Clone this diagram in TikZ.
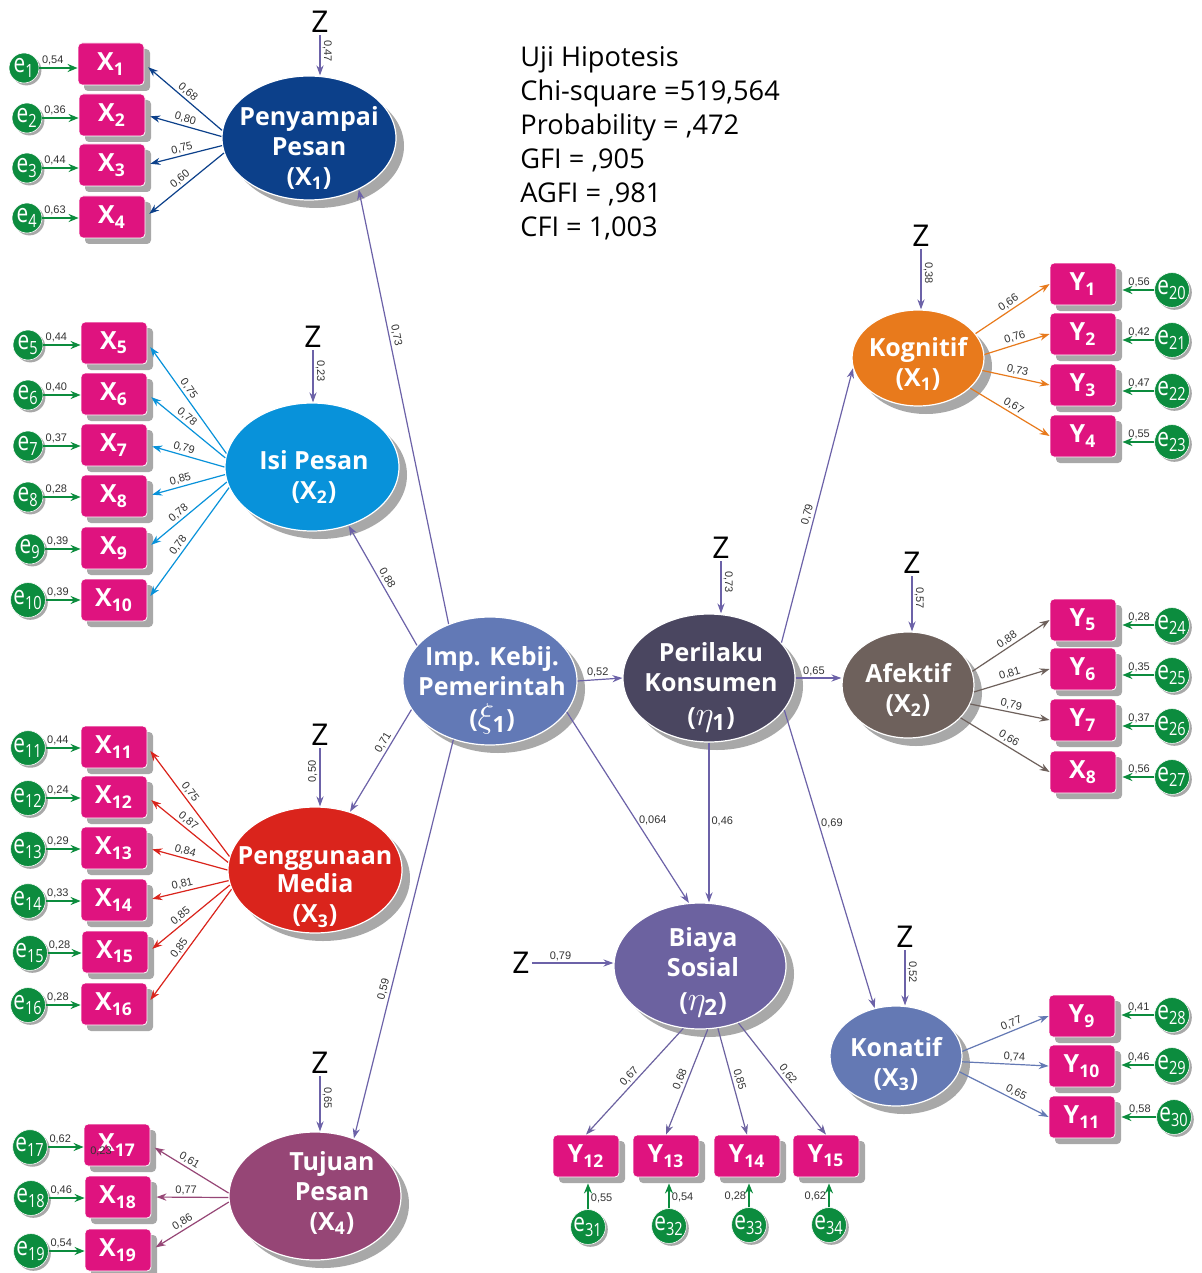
\documentclass[tikz,border=0pt]{standalone}
\usepackage{fontspec}
\setmainfont{Open Sans}
\newfontfamily\numfont{Liberation Sans}
\usetikzlibrary{arrows.meta,shapes.geometric,shadows}

\definecolor{indfill}{RGB}{223,19,127}
\definecolor{errfill}{RGB}{12,140,62}
\definecolor{shade}{RGB}{168,168,168}
\definecolor{regcol}{RGB}{108,98,168}
\definecolor{ppcol}{RGB}{12,64,138}
\definecolor{ipcol}{RGB}{8,146,218}
\definecolor{pmcol}{RGB}{218,36,28}
\definecolor{tpcol}{RGB}{150,70,118}
\definecolor{impcol}{RGB}{98,121,182}
\definecolor{pkcol}{RGB}{74,70,96}
\definecolor{kogcol}{RGB}{232,122,28}
\definecolor{afkcol}{RGB}{110,97,92}
\definecolor{bscol}{RGB}{108,98,160}
\definecolor{koncol}{RGB}{100,121,180}

\def\errlab#1{\scalebox{0.8}[1]{e\textsubscript{#1}}}
\def\gr#1{{\fontsize{16}{15}\selectfont$#1$}}

\tikzset{
  lat/.style={ellipse, draw=white, line width=0.6pt, inner sep=0pt,
    drop shadow={shadow xshift=4pt, shadow yshift=-4pt, fill=shade, opacity=1}},
  lattxt/.style={text=white, align=center, inner sep=0pt, font=\fontsize{12.5}{15}\selectfont\bfseries},
  ind/.style={rectangle, rounded corners=2pt, fill=indfill, draw=white, line width=0.4pt, text=white,
    minimum width=33pt, minimum height=21pt, inner sep=0pt, font=\fontsize{12.5}{14}\selectfont\bfseries,
    drop shadow={shadow xshift=3pt, shadow yshift=-3pt, fill=shade, opacity=1}},
  err/.style={circle, fill=errfill, draw=white, line width=0.3pt, text=white, minimum size=15pt, inner sep=0pt,
    font=\fontsize{13}{13}\selectfont,
    drop shadow={shadow xshift=1.2pt, shadow yshift=-1.2pt, fill=shade, opacity=1}},
  erar/.style={-{Stealth[length=5pt,width=4pt]}, errfill, line width=0.9pt},
  ldl/.style={<-, shorten <=2.5pt, line width=0.6pt},
  ldr/.style={->, line width=0.6pt},
  reg/.style={regcol, line width=0.6pt},
  zlab/.style={font=\fontsize{15}{15}\selectfont, inner sep=1pt},
  lbl/.style={font=\numfont\fontsize{5.5}{6}\selectfont, text=black!80, inner sep=1pt},
  stat/.style={anchor=north west, align=left, inner sep=0pt, font=\fontsize{13.6}{17}\selectfont}
}

\begin{document}
\begin{tikzpicture}[x=0.5pt, y=-0.5pt, >={Stealth[length=5pt,width=3.6pt]}]
%%%%% START %%%%%
\useasboundingbox[fill=white] (0,0) rectangle (1202,1273);

\node[stat] (uji) at (520,46) {Uji Hipotesis\\Chi-square =519,564\\Probability = ,472\\GFI = ,905\\AGFI = ,981\\CFI = 1,003};

%%%%% LATENT %%%%%
\node[lat, fill=ppcol, minimum width=87pt, minimum height=62pt] (pp) at (309,138) {};
\node[lat, fill=ipcol, minimum width=87pt, minimum height=64pt] (ip) at (312,467) {};
\node[lat, fill=pmcol, minimum width=87pt, minimum height=63pt] (pm) at (315,870) {};
\node[lat, fill=tpcol, minimum width=86pt, minimum height=64pt] (tp) at (315,1196) {};
\node[lat, fill=impcol, minimum width=87pt, minimum height=64pt] (imp) at (490,681) {};
\node[lat, fill=pkcol, minimum width=86pt, minimum height=64pt] (pk) at (709,678) {};
\node[lat, fill=kogcol, minimum width=66pt, minimum height=48pt] (kog) at (918,358) {};
\node[lat, fill=afkcol, minimum width=66pt, minimum height=53pt] (afk) at (908,685) {};
\node[lat, fill=bscol, minimum width=86pt, minimum height=63pt] (bs) at (700,966) {};
\node[lat, fill=koncol, minimum width=66pt, minimum height=50pt] (kon) at (896,1056) {};

\node[lattxt] (ppt) at (309,148) {Penyampai\\Pesan\\(X\textsubscript{1})};
\node[lattxt] (ipt) at (314,477) {Isi Pesan\\(X\textsubscript{2})};
\node[lattxt, font=\fontsize{12.5}{14}\selectfont\bfseries] (pmt) at (315,887) {Penggunaan\\Media\\[1pt](X\textsubscript{3})};
\node[lattxt] (tpt) at (332,1193) {Tujuan\\Pesan\\(X\textsubscript{4})};
\node[lattxt] (impt) at (492,690) {Imp. Kebij.\\Pemerintah\\[1pt](\gr{\xi_{\mathbf{1}}})};
\node[lattxt] (pkt) at (711,687) {Perilaku\\Konsumen\\[2pt](\gr{\eta_{\mathbf{1}}})};
\node[lattxt] (kogt) at (918,364) {Kognitif\\(X\textsubscript{1})};
\node[lattxt] (afkt) at (908,690) {Afektif\\(X\textsubscript{2})};
\node[lattxt] (bst) at (703,972) {Biaya\\Sosial\\[2pt](\gr{\eta_{\mathbf{2}}})};
\node[lattxt] (kont) at (896,1064) {Konatif\\(X\textsubscript{3})};

%%%%% Z %%%%%
\node[zlab] (z1) at (320,22) {Z};
\node[zlab] (z2) at (313,337) {Z};
\node[zlab] (z3) at (320,735) {Z};
\node[zlab] (z4) at (320,1063) {Z};
\node[zlab] (z5) at (721,548) {Z};
\node[zlab] (z6) at (921,236) {Z};
\node[zlab] (z7) at (912,563) {Z};
\node[zlab] (z8) at (521,963) {Z};
\node[zlab] (z9) at (905,937) {Z};
\draw[reg, ->] (z1) -- (z1 |- pp.north) node[lbl, pos=0.4, rotate=-90, anchor=south] {0,47};
\draw[reg, ->] (z2) -- (z2 |- ip.north) node[lbl, pos=0.4, rotate=-90, anchor=south] {0,23};
\draw[reg, ->] (z3) -- (z3 |- pm.north) node[lbl, pos=0.4, rotate=90, anchor=south] {0,50};
\draw[reg, ->] (z4) -- (z4 |- tp.north) node[lbl, pos=0.4, rotate=-90, anchor=south] {0,65};
\draw[reg, ->] (z5) -- (z5 |- pk.north) node[lbl, pos=0.4, rotate=-90, anchor=south] {0,73};
\draw[reg, ->] (z6) -- (z6 |- kog.north) node[lbl, pos=0.4, rotate=-90, anchor=south] {0,38};
\draw[reg, ->] (z7) -- (z7 |- afk.north) node[lbl, pos=0.4, rotate=-90, anchor=south] {0,57};
\draw[reg, ->] (z8) -- (z8 -| bs.west) node[lbl, above, pos=0.35] {0,79};
\draw[reg, ->] (z9) -- (z9 |- kon.north) node[lbl, pos=0.4, rotate=-90, anchor=south] {0,52};

%%%%% STRUCTURAL %%%%%
\draw[reg, <-] (pp.-46) -- (imp.126) node[lbl, sloped, above, pos=0.34] {0,73};
\draw[reg, <-] (ip.-58) -- (imp.154) node[lbl, sloped, above, pos=0.47] {0,88};
\draw[reg, <-] (pm.59) -- (imp.200) node[lbl, sloped, above, pos=0.64] {0,71};
\draw[reg, <-] (tp.56) -- (imp.238) node[lbl, sloped, above, pos=0.37] {0,59};
\draw[reg, ->] (imp.east) -- (pk.west) node[lbl, above, pos=0.45] {0,52};
\draw[reg, ->] (imp.-22) -- (bs.100) node[lbl, right, pos=0.57] {0,064};
\draw[reg, ->] (pk.south) -- (pk.south |- bs.north) node[lbl, right, pos=0.49] {0,46};
\draw[reg, ->] (pk.-23) -- (kon.114) node[lbl, right, pos=0.38] {0,69};
\draw[reg, ->] (pk.26) -- (kog.189) node[lbl, sloped, above, pos=0.46] {0,79};
\draw[reg, ->] (pk.east) -- (pk.east -| afk.west) node[lbl, above, pos=0.4] {0,65};

%%%%% PENYAMPAI PESAN %%%%%
\node[ind] (x1) at (111,64) {X\textsubscript{1}};
\node[ind] (x2) at (112,115) {X\textsubscript{2}};
\node[ind] (x3) at (112,165) {X\textsubscript{3}};
\node[ind] (x4) at (112,217) {X\textsubscript{4}};
\node[err] (e1) at (24,68) {\errlab{1}};
\node[err] (e2) at (27,118) {\errlab{2}};
\node[err] (e3) at (27,168) {\errlab{3}};
\node[err] (e4) at (27,218) {\errlab{4}};
\draw[erar] (e1) -- (e1 -| x1.west) node[lbl, above, pos=0.35] {0,54};
\draw[erar] (e2) -- (e2 -| x2.west) node[lbl, above, pos=0.35] {0,36};
\draw[erar] (e3) -- (e3 -| x3.west) node[lbl, above, pos=0.35] {0,44};
\draw[erar] (e4) -- (e4 -| x4.west) node[lbl, above, pos=0.35] {0,63};
\draw[ldl, ppcol] (x1.east) -- (pp.175) node[lbl, sloped, above, pos=0.5] {0,68};
\draw[ldl, ppcol] (x2.east) -- (pp.179) node[lbl, sloped, above, pos=0.5] {0,80};
\draw[ldl, ppcol] (x3.east) -- (pp.185) node[lbl, sloped, above, pos=0.5] {0,75};
\draw[ldl, ppcol] (x4.east) -- (pp.190) node[lbl, sloped, above, pos=0.5] {0,60};

%%%%% ISI PESAN %%%%%
\node[ind] (x5) at (114,343) {X\textsubscript{5}};
\node[ind] (x6) at (114,394) {X\textsubscript{6}};
\node[ind] (x7) at (114,445) {X\textsubscript{7}};
\node[ind] (x8) at (114,496) {X\textsubscript{8}};
\node[ind] (x9) at (114,548) {X\textsubscript{9}};
\node[ind] (x10) at (114,600) {X\textsubscript{10}};
\node[err] (e5) at (28,345) {\errlab{5}};
\node[err] (e6) at (28,395) {\errlab{6}};
\node[err] (e7) at (28,446) {\errlab{7}};
\node[err] (e8) at (28,497) {\errlab{8}};
\node[err] (e9) at (30,549) {\errlab{9}};
\node[err] (e10) at (28,600) {\errlab{10}};
\draw[erar] (e5) -- (e5 -| x5.west) node[lbl, above, pos=0.35] {0,44};
\draw[erar] (e6) -- (e6 -| x6.west) node[lbl, above, pos=0.35] {0,40};
\draw[erar] (e7) -- (e7 -| x7.west) node[lbl, above, pos=0.35] {0,37};
\draw[erar] (e8) -- (e8 -| x8.west) node[lbl, above, pos=0.35] {0,28};
\draw[erar] (e9) -- (e9 -| x9.west) node[lbl, above, pos=0.35] {0,39};
\draw[erar] (e10) -- (e10 -| x10.west) node[lbl, above, pos=0.35] {0,39};
\draw[ldl, ipcol] (x5.east) -- (ip.171) node[lbl, sloped, above, pos=0.45] {0,75};
\draw[ldl, ipcol] (x6.east) -- (ip.174) node[lbl, sloped, above, pos=0.45] {0,78};
\draw[ldl, ipcol] (x7.east) -- (ip.180) node[lbl, sloped, above, pos=0.45] {0,79};
\draw[ldl, ipcol] (x8.east) -- (ip.185) node[lbl, sloped, above, pos=0.45] {0,85};
\draw[ldl, ipcol] (x9.east) -- (ip.190) node[lbl, sloped, above, pos=0.45] {0,78};
\draw[ldl, ipcol] (x10.east) -- (ip.194) node[lbl, sloped, above, pos=0.45] {0,78};

%%%%% PENGGUNAAN MEDIA %%%%%
\node[ind] (x11) at (114,747) {X\textsubscript{11}};
\node[ind] (x12) at (114,797) {X\textsubscript{12}};
\node[ind] (x13) at (114,848) {X\textsubscript{13}};
\node[ind] (x14) at (114,900) {X\textsubscript{14}};
\node[ind] (x15) at (115,952) {X\textsubscript{15}};
\node[ind] (x16) at (114,1004) {X\textsubscript{16}};
\node[err] (e11) at (28,748) {\errlab{11}};
\node[err] (e12) at (28,798) {\errlab{12}};
\node[err] (e13) at (28,849) {\errlab{13}};
\node[err] (e14) at (28,901) {\errlab{14}};
\node[err] (e15) at (30,953) {\errlab{15}};
\node[err] (e16) at (28,1005) {\errlab{16}};
\draw[erar] (e11) -- (e11 -| x11.west) node[lbl, above, pos=0.35] {0,44};
\draw[erar] (e12) -- (e12 -| x12.west) node[lbl, above, pos=0.35] {0,24};
\draw[erar] (e13) -- (e13 -| x13.west) node[lbl, above, pos=0.35] {0,29};
\draw[erar] (e14) -- (e14 -| x14.west) node[lbl, above, pos=0.35] {0,33};
\draw[erar] (e15) -- (e15 -| x15.west) node[lbl, above, pos=0.35] {0,28};
\draw[erar] (e16) -- (e16 -| x16.west) node[lbl, above, pos=0.35] {0,28};
\draw[ldl, pmcol] (x11.east) -- (pm.171) node[lbl, sloped, above, pos=0.45] {0,75};
\draw[ldl, pmcol] (x12.east) -- (pm.175) node[lbl, sloped, above, pos=0.45] {0,87};
\draw[ldl, pmcol] (x13.east) -- (pm.180) node[lbl, sloped, above, pos=0.45] {0,84};
\draw[ldl, pmcol] (x14.east) -- (pm.187) node[lbl, sloped, above, pos=0.45] {0,81};
\draw[ldl, pmcol] (x15.east) -- (pm.190) node[lbl, sloped, above, pos=0.45] {0,85};
\draw[ldl, pmcol] (x16.east) -- (pm.193) node[lbl, sloped, above, pos=0.45] {0,85};

%%%%% TUJUAN PESAN %%%%%
\node[ind] (x17) at (117,1145) {X\textsubscript{17}};
\node[ind] (x18) at (118,1197) {X\textsubscript{18}};
\node[ind] (x19) at (118,1250) {X\textsubscript{19}};
\node[lbl] (stray) at (101,1151) {0,23};
\node[err] (e17) at (30,1147) {\errlab{17}};
\node[err] (e18) at (31,1198) {\errlab{18}};
\node[err] (e19) at (31,1251) {\errlab{19}};
\draw[erar] (e17) -- (e17 -| x17.west) node[lbl, above, pos=0.35] {0,62};
\draw[erar] (e18) -- (e18 -| x18.west) node[lbl, above, pos=0.35] {0,46};
\draw[erar] (e19) -- (e19 -| x19.west) node[lbl, above, pos=0.35] {0,54};
\draw[ldl, tpcol] (x17.east) -- (tp.178) node[lbl, sloped, above, pos=0.45] {0,61};
\draw[ldl, tpcol] (x18.east) -- (tp.181) node[lbl, sloped, above, pos=0.45] {0,77};
\draw[ldl, tpcol] (x19.east) -- (tp.184) node[lbl, sloped, above, pos=0.45] {0,86};

%%%%% KOGNITIF %%%%%
\node[ind] (y1) at (1083,284) {Y\textsubscript{1}};
\node[ind] (y2) at (1083,334) {Y\textsubscript{2}};
\node[ind] (y3) at (1083,385) {Y\textsubscript{3}};
\node[ind] (y4) at (1083,436) {Y\textsubscript{4}};
\node[err] (e20) at (1172,290) {\errlab{20}};
\node[err] (e21) at (1172,340) {\errlab{21}};
\node[err] (e22) at (1172,391) {\errlab{22}};
\node[err] (e23) at (1172,442) {\errlab{23}};
\draw[erar, shorten >=3pt] (e20) -- (e20 -| y1.east) node[lbl, above, pos=0.4] {0,56};
\draw[erar, shorten >=3pt] (e21) -- (e21 -| y2.east) node[lbl, above, pos=0.4] {0,42};
\draw[erar, shorten >=3pt] (e22) -- (e22 -| y3.east) node[lbl, above, pos=0.4] {0,47};
\draw[erar, shorten >=3pt] (e23) -- (e23 -| y4.east) node[lbl, above, pos=0.4] {0,55};
\draw[ldr, kogcol] (kog.23) -- (y1.west) node[lbl, sloped, above, pos=0.5] {0,66};
\draw[ldr, kogcol] (kog.3) -- (y2.west) node[lbl, sloped, above, pos=0.5] {0,76};
\draw[ldr, kogcol] (kog.-11) -- (y3.west) node[lbl, sloped, above, pos=0.5] {0,73};
\draw[ldr, kogcol] (kog.-30) -- (y4.west) node[lbl, sloped, above, pos=0.5] {0,67};

%%%%% AFEKTIF %%%%%
\node[ind] (y5) at (1083,620) {Y\textsubscript{5}};
\node[ind] (y6) at (1083,669) {Y\textsubscript{6}};
\node[ind] (y7) at (1083,720) {Y\textsubscript{7}};
\node[ind] (y8) at (1083,772) {X\textsubscript{8}};
\node[err] (e24) at (1172,625) {\errlab{24}};
\node[err] (e25) at (1172,675) {\errlab{25}};
\node[err] (e26) at (1172,726) {\errlab{26}};
\node[err] (e27) at (1172,777) {\errlab{27}};
\draw[erar, shorten >=3pt] (e24) -- (e24 -| y5.east) node[lbl, above, pos=0.4] {0,28};
\draw[erar, shorten >=3pt] (e25) -- (e25 -| y6.east) node[lbl, above, pos=0.4] {0,35};
\draw[erar, shorten >=3pt] (e26) -- (e26 -| y7.east) node[lbl, above, pos=0.4] {0,37};
\draw[erar, shorten >=3pt] (e27) -- (e27 -| y8.east) node[lbl, above, pos=0.4] {0,56};
\draw[ldr, afkcol] (afk.12) -- (y5.west) node[lbl, sloped, above, pos=0.5] {0,88};
\draw[ldr, afkcol] (afk.-6) -- (y6.west) node[lbl, sloped, above, pos=0.5] {0,81};
\draw[ldr, afkcol] (afk.-17) -- (y7.west) node[lbl, sloped, above, pos=0.5] {0,79};
\draw[ldr, afkcol] (afk.-32) -- (y8.west) node[lbl, sloped, above, pos=0.5] {0,66};

%%%%% KONATIF %%%%%
\node[ind] (y9) at (1082,1016) {Y\textsubscript{9}};
\node[ind] (y10) at (1082,1066) {Y\textsubscript{10}};
\node[ind] (y11) at (1082,1117) {Y\textsubscript{11}};
\node[err] (e28) at (1172,1015) {\errlab{28}};
\node[err] (e29) at (1172,1065) {\errlab{29}};
\node[err] (e30) at (1174,1117) {\errlab{30}};
\draw[erar, shorten >=3pt] (e28) -- (e28 -| y9.east) node[lbl, above, pos=0.4] {0,41};
\draw[erar, shorten >=3pt] (e29) -- (e29 -| y10.east) node[lbl, above, pos=0.4] {0,46};
\draw[erar, shorten >=3pt] (e30) -- (e30 -| y11.east) node[lbl, above, pos=0.4] {0,58};
\draw[ldr, koncol] (kon.4) -- (y9.west) node[lbl, sloped, above, pos=0.6] {0,77};
\draw[ldr, koncol] (kon.-5) -- (y10.west) node[lbl, sloped, above, pos=0.6] {0,74};
\draw[ldr, koncol] (kon.-14) -- (y11.west) node[lbl, sloped, above, pos=0.6] {0,65};

%%%%% BIAYA SOSIAL %%%%%
\node[ind] (y12) at (586,1156) {Y\textsubscript{12}};
\node[ind] (y13) at (666,1156) {Y\textsubscript{13}};
\node[ind] (y14) at (747,1156) {Y\textsubscript{14}};
\node[ind] (y15) at (826,1156) {Y\textsubscript{15}};
\node[err] (e31) at (588,1227) {\errlab{31}};
\node[err] (e32) at (669,1226) {\errlab{32}};
\node[err] (e33) at (749,1225) {\errlab{33}};
\node[err] (e34) at (829,1225) {\errlab{34}};
\draw[erar, shorten >=3pt] (e31) -- (e31 |- y12.south) node[lbl, right, pos=0.35] {0,55};
\draw[erar, shorten >=3pt] (e32) -- (e32 |- y13.south) node[lbl, right, pos=0.35] {0,54};
\draw[erar, shorten >=3pt] (e33) -- (e33 |- y14.south) node[lbl, left, pos=0.35] {0,28};
\draw[erar, shorten >=3pt] (e34) -- (e34 |- y15.south) node[lbl, left, pos=0.35] {0,62};
\draw[ldl, bscol, shorten <=0pt] (y12.north) -- (bs.255) node[lbl, sloped, above, pos=0.5] {0,67};
\draw[ldl, bscol, shorten <=0pt] (y13.north) -- (bs.277) node[lbl, sloped, above, pos=0.5] {0,68};
\draw[ldr, bscol] (bs.286) -- (y14.north) node[lbl, sloped, above, pos=0.5] {0,85};
\draw[ldr, bscol] (bs.304) -- (y15.north) node[lbl, sloped, above, pos=0.5] {0,62};
%%%%% END %%%%%
\end{tikzpicture}
\end{document}
